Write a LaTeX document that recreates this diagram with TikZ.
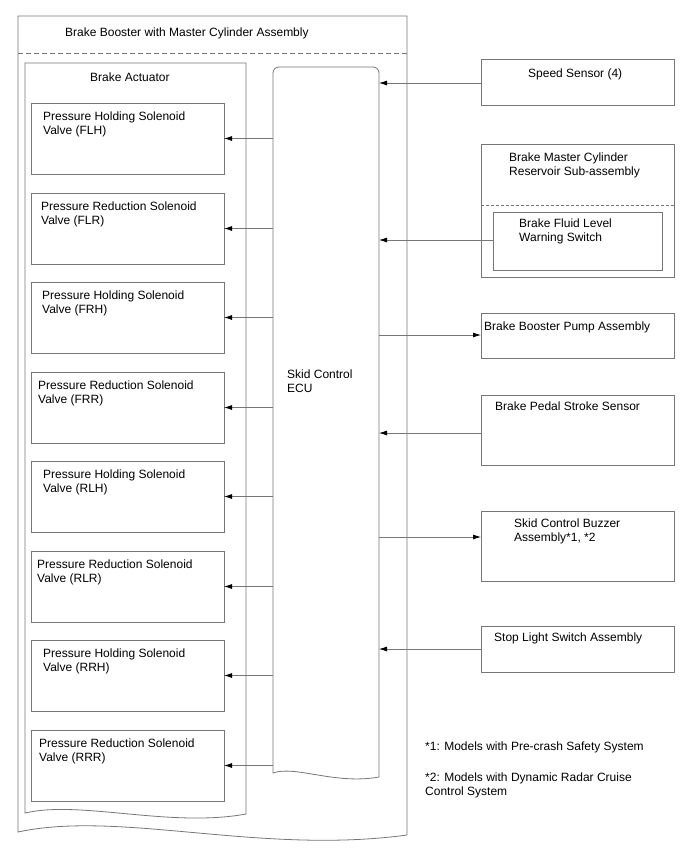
\documentclass[tikz,border=0pt]{standalone}
\usepackage{fontspec}
\setmainfont{Liberation Sans}
\usetikzlibrary{arrows.meta}
\definecolor{lgray}{RGB}{118,118,118}
\begin{document}
\begin{tikzpicture}[x=1pt,y=-1pt,
  ln/.style={draw=lgray, line width=0.8pt},
  box/.style={ln, rectangle, inner sep=0pt, outer sep=0pt, anchor=north west},
  txt/.style={anchor=base west, align=left, inner sep=0pt, font=\fontsize{12}{14}\selectfont, text=black},
  arr/.style={ln, -{Latex[length=8pt,width=5pt,color=black]}}]
\useasboundingbox (0,0) rectangle (688,852);
% outer container
\coordinate (outerNW) at (18,16);
\draw[ln] (18,832) -- (outerNW) -- (407,16) -- (407,835) .. controls (260,855) and (120,810) .. (18,832) -- cycle;
\draw[ln, dash pattern=on 5pt off 3pt] (18,53) -- (407,53);
\node[txt] (title) at (65,36) {Brake Booster with Master Cylinder Assembly};
% brake actuator
\coordinate (actNW) at (25,63);
\draw[ln] (25,813) -- (actNW) -- (246,63) -- (246,814) .. controls (170,828) and (80,800) .. (25,813) -- cycle;
\node[txt] (acttitle) at (90,81) {Brake Actuator};
% ECU
\node[inner sep=0pt, outer sep=0pt, minimum width=106pt, minimum height=708pt, anchor=north west] (ecu) at (273,67) {};
\draw[ln] (273,773) [rounded corners=6pt] -- (273,67) -- (379,67) [sharp corners] -- (379,777) .. controls (335,785) and (295,765) .. (273,773) -- cycle;
\node[txt] (ecutxt) at (287,392) {Skid Control\\ECU};
% valves (text y = baseline of last line)
\foreach \n/\t/\x/\lab in {1/103/43/{Pressure Holding Solenoid\\Valve (FLH)},
                           2/193/41/{Pressure Reduction Solenoid\\Valve (FLR)},
                           3/282/42/{Pressure Holding Solenoid\\Valve (FRH)},
                           4/372/38/{Pressure Reduction Solenoid\\Valve (FRR)},
                           5/461/43/{Pressure Holding Solenoid\\Valve (RLH)},
                           6/551/37/{Pressure Reduction Solenoid\\Valve (RLR)},
                           7/640/43/{Pressure Holding Solenoid\\Valve (RRH)},
                           8/730/39/{Pressure Reduction Solenoid\\Valve (RRR)}}{
  \node[box, minimum width=193pt, minimum height=71pt] (v\n) at (31,\t) {};
  \node[txt] (vt\n) at (\x,\t+31) {\lab};
  \draw[arr] (ecu.west |- v\n.east) -- (v\n.east);
}
% right side
\node[box, minimum width=193pt, minimum height=46pt] (speed) at (481,59) {};
\node[txt] (speedtxt) at (528,77) {Speed Sensor (4)};
\draw[arr] (speed.west |- 0,83) -- (ecu.east |- 0,83);

\node[box, minimum width=193pt, minimum height=133pt] (res) at (481,144) {};
\draw[ln, dash pattern=on 3pt off 2pt] (481,205) -- (674,205);
\node[txt] (restxt) at (509,175) {Brake Master Cylinder\\Reservoir Sub-assembly};
\node[box, minimum width=169pt, minimum height=58pt] (fluid) at (493,212) {};
\node[txt] (fluidtxt) at (519,241) {Brake Fluid Level\\Warning Switch};
\draw[arr] (fluid.west |- 0,240) -- (ecu.east |- 0,240);

\node[box, minimum width=193pt, minimum height=45pt] (pump) at (481,313) {};
\node[txt] (pumptxt) at (484,330) {Brake Booster Pump Assembly};
\draw[arr] (ecu.east |- 0,335) -- (pump.west |- 0,335);

\node[box, minimum width=193pt, minimum height=70pt] (pedal) at (481,395) {};
\node[txt] (pedaltxt) at (495,410) {Brake Pedal Stroke Sensor};
\draw[arr] (pedal.west |- 0,433) -- (ecu.east |- 0,433);

\node[box, minimum width=193pt, minimum height=70pt] (buzz) at (481,511) {};
\node[txt] (buzztxt) at (514,541) {Skid Control Buzzer\\Assembly*1, *2};
\draw[arr] (ecu.east |- 0,537) -- (buzz.west |- 0,537);

\node[box, minimum width=193pt, minimum height=46pt] (stop) at (481,626) {};
\node[txt] (stoptxt) at (494,641) {Stop Light Switch Assembly};
\draw[arr] (stop.west |- 0,649) -- (ecu.east |- 0,649);
% notes
\node[txt] (note1) at (425,750) {*1: Models with Pre-crash Safety System};
\node[txt] (note2) at (425,795) {*2: Models with Dynamic Radar Cruise\\Control System};
\end{tikzpicture}
\end{document}
